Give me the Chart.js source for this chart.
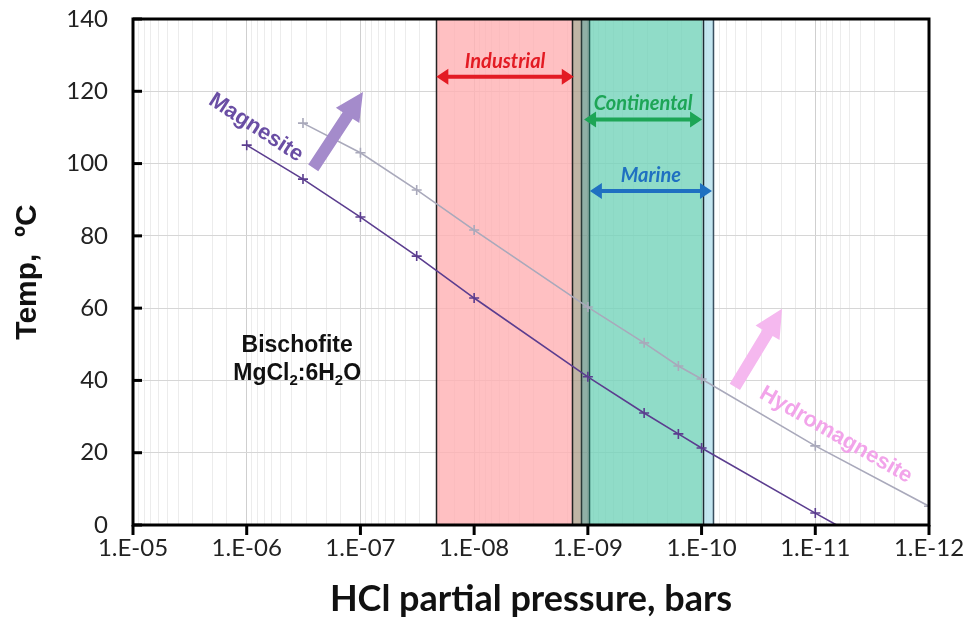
<!DOCTYPE html>
<html>
<head>
<meta charset="utf-8">
<script src="https://cdn.jsdelivr.net/npm/chart.js@4.4.1/dist/chart.umd.min.js"></script>
<style>
  body { margin: 0; background: #fff; }
  #wrap { width: 968px; height: 633px; }
</style>
</head>
<body>
<div id="wrap"><canvas id="chart"></canvas></div>
<script>
// HCl partial pressure (bars) vs temperature (C)
const magnesiteP = [1e-6, 3.2e-7, 1e-7, 3.2e-8, 1e-8, 1e-9, 3.2e-10, 1.6e-10, 1e-10, 1e-11, 6.5e-12];
const magnesiteT = [105.1, 95.7, 85.2, 74.4, 62.8, 41.0, 31.0, 25.2, 21.3, 3.3, 0];
const hydroP = [3.2e-7, 1e-7, 3.2e-8, 1e-8, 1e-9, 3.2e-10, 1.6e-10, 1e-10, 1e-11, 1e-12];
const hydroT = [111.2, 103.0, 92.7, 81.6, 60.3, 50.4, 44.0, 40.4, 21.9, 5.2];

// shaded pressure zones (edges, left to right)
const zoneEdges = [2.16e-8, 1.38e-9, 1.15e-9, 9.7e-10, 9.8e-11, 7.9e-11];
const zoneFills = ["rgba(255,176,179,0.8)", "rgba(176,162,142,0.8)", "rgba(116,156,144,0.8)",
                   "rgba(116,211,186,0.8)", "rgba(180,224,236,0.8)"];
const zoneLines = ["#222", "#222", "#2a3a38", "#1f5a50", "#1c2c34", "#3a5060"];

// range arrows: label, from, to, temperature level
const rangeNames = ["Industrial", "Continental", "Marine"];
const rangeFrom = [2.15e-8, 1.08e-9, 9.6e-10];
const rangeTo = [1.33e-9, 9.9e-11, 8.1e-11];
const rangeT = [124.0, 112.2, 92.4];
const rangeColors = ["#e31b23", "#1da556", "#1f70c1"];

const xMin = 1e-12, xMax = 1e-5;

function isDecade(v) {
  const e = Math.log10(v);
  return Math.abs(e - Math.round(e)) < 1e-6;
}

function pts(xs, ys) {
  return xs.map((x, i) => ({ x: x, y: ys[i] }));
}

function blockArrow(ctx, x0, y0, x1, y1, shaft, head, headLen, color) {
  const ang = Math.atan2(y1 - y0, x1 - x0);
  const len = Math.hypot(x1 - x0, y1 - y0);
  ctx.save();
  ctx.translate(x0, y0);
  ctx.rotate(ang);
  ctx.beginPath();
  ctx.moveTo(0, -shaft / 2);
  ctx.lineTo(len - headLen, -shaft / 2);
  ctx.lineTo(len - headLen, -head / 2);
  ctx.lineTo(len, 0);
  ctx.lineTo(len - headLen, head / 2);
  ctx.lineTo(len - headLen, shaft / 2);
  ctx.lineTo(0, shaft / 2);
  ctx.closePath();
  ctx.fillStyle = color;
  ctx.fill();
  ctx.restore();
}

function doubleArrow(ctx, x0, x1, y, color) {
  const hl = 12, hw = 8;
  ctx.save();
  ctx.strokeStyle = color;
  ctx.fillStyle = color;
  ctx.lineWidth = 4;
  ctx.beginPath();
  ctx.moveTo(x0 + hl - 2, y);
  ctx.lineTo(x1 - hl + 2, y);
  ctx.stroke();
  ctx.beginPath();
  ctx.moveTo(x0, y); ctx.lineTo(x0 + hl, y - hw); ctx.lineTo(x0 + hl, y + hw); ctx.closePath();
  ctx.moveTo(x1, y); ctx.lineTo(x1 - hl, y - hw); ctx.lineTo(x1 - hl, y + hw); ctx.closePath();
  ctx.fill();
  ctx.restore();
}

function rotatedText(ctx, text, x, y, deg, font, color) {
  ctx.save();
  ctx.translate(x, y);
  ctx.rotate(deg * Math.PI / 180);
  ctx.font = font;
  ctx.fillStyle = color;
  ctx.textAlign = "center";
  ctx.textBaseline = "middle";
  ctx.fillText(text, 0, 0);
  ctx.restore();
}

const overlay = {
  id: "overlay",
  beforeDatasetsDraw(chart) {
    const { ctx, chartArea: a, scales: { x } } = chart;
    ctx.save();
    for (let i = 0; i < zoneFills.length; i++) {
      const x0 = x.getPixelForValue(zoneEdges[i]);
      const x1 = x.getPixelForValue(zoneEdges[i + 1]);
      ctx.fillStyle = zoneFills[i];
      ctx.fillRect(x0, a.top, x1 - x0, a.bottom - a.top);
    }
    ctx.lineWidth = 1.5;
    zoneEdges.forEach((v, i) => {
      const px = Math.round(x.getPixelForValue(v)) + 0.5;
      ctx.strokeStyle = zoneLines[i];
      ctx.beginPath();
      ctx.moveTo(px, a.top);
      ctx.lineTo(px, a.bottom);
      ctx.stroke();
    });
    ctx.restore();
  },
  afterDatasetsDraw(chart) {
    const { ctx, chartArea: a, scales: { x, y } } = chart;
    ctx.save();

    // range arrows and labels
    rangeNames.forEach((name, i) => {
      const x0 = x.getPixelForValue(rangeFrom[i]);
      const x1 = x.getPixelForValue(rangeTo[i]);
      const py = y.getPixelForValue(rangeT[i]);
      doubleArrow(ctx, x0, x1, py, rangeColors[i]);
      ctx.font = "italic bold 20px Lato";
      ctx.fillStyle = rangeColors[i];
      ctx.textAlign = "center";
      ctx.textBaseline = "alphabetic";
      ctx.fillText(name, (x0 + x1) / 2, py - 9);
    });

    // mineral labels and stability arrows
    blockArrow(ctx, x.getPixelForValue(2.6e-7), y.getPixelForValue(98.8),
      x.getPixelForValue(9.5e-8), y.getPixelForValue(119.8), 12, 28, 28, "#a48bcb");
    blockArrow(ctx, x.getPixelForValue(5.1e-11), y.getPixelForValue(38.2),
      x.getPixelForValue(1.96e-11), y.getPixelForValue(59.8), 12, 28, 28, "#f5b8ef");
    rotatedText(ctx, "Magnesite", x.getPixelForValue(8.3e-7), y.getPixelForValue(109.9), 33,
      "bold 22px 'Liberation Sans', Arial", "#6a4ea4");
    rotatedText(ctx, "Hydromagnesite", x.getPixelForValue(6.6e-12), y.getPixelForValue(24.9), 30,
      "bold 22px 'Liberation Sans', Arial", "#f2a4ea");

    // Bischofite label with subscripts
    const bx = x.getPixelForValue(3.6e-7);
    const by1 = y.getPixelForValue(47.8);
    const by2 = y.getPixelForValue(40.0);
    ctx.fillStyle = "#111";
    ctx.textBaseline = "alphabetic";
    ctx.textAlign = "center";
    ctx.font = "bold 23px 'Liberation Sans', Arial";
    ctx.fillText("Bischofite", bx, by1);
    const parts = [["MgCl", 0], ["2", 1], [":6H", 0], ["2", 1], ["O", 0]];
    const big = "bold 23px 'Liberation Sans', Arial", small = "bold 15px 'Liberation Sans', Arial";
    let total = 0;
    parts.forEach(p => { ctx.font = p[1] ? small : big; total += ctx.measureText(p[0]).width; });
    let cx = bx - total / 2;
    ctx.textAlign = "left";
    parts.forEach(p => {
      ctx.font = p[1] ? small : big;
      ctx.fillText(p[0], cx, by2 + (p[1] ? 5 : 0));
      cx += ctx.measureText(p[0]).width;
    });

    // tick marks: y inward, x outward
    ctx.strokeStyle = "#000";
    ctx.lineWidth = 3;
    y.ticks.forEach(t => {
      const py = y.getPixelForValue(t.value);
      ctx.beginPath(); ctx.moveTo(a.left, py); ctx.lineTo(a.left + 9, py); ctx.stroke();
    });
    x.ticks.forEach(t => {
      if (!isDecade(t.value)) return;
      const px = x.getPixelForValue(t.value);
      ctx.beginPath(); ctx.moveTo(px, a.bottom); ctx.lineTo(px, a.bottom + 10); ctx.stroke();
    });

    // plot frame
    ctx.lineWidth = 3;
    ctx.strokeRect(a.left, a.top, a.right - a.left, a.bottom - a.top);
    ctx.restore();
  }
};

new Chart(document.getElementById("chart"), {
  type: "line",
  data: {
    datasets: [
      {
        label: "Magnesite",
        data: pts(magnesiteP, magnesiteT),
        borderColor: "#5b3d8f",
        backgroundColor: "#5b3d8f",
        borderWidth: 1.6,
        pointStyle: "cross",
        pointRadius: magnesiteP.map((v, i) => i === magnesiteP.length - 1 ? 0 : 5),
        pointBorderWidth: 1.6,
        tension: 0
      },
      {
        label: "Hydromagnesite",
        data: pts(hydroP, hydroT),
        borderColor: "#a9a9bb",
        backgroundColor: "#a9a9bb",
        borderWidth: 1.6,
        pointStyle: "cross",
        pointRadius: 5,
        pointBorderWidth: 1.6,
        tension: 0
      }
    ]
  },
  options: {
    responsive: true,
    maintainAspectRatio: false,
    animation: false,
    layout: { padding: { top: 19, right: 39, left: 0, bottom: 0 } },
    plugins: { legend: { display: false }, tooltip: { enabled: false } },
    scales: {
      x: {
        type: "logarithmic",
        reverse: true,
        min: xMin,
        max: xMax,
        afterFit: s => { s.height = 108; s.paddingLeft = 0; s.paddingRight = 0; },
        border: { display: false },
        grid: {
          drawTicks: false,
          color: c => isDecade(c.tick.value) ? "#cfcfcf" : "#ececec",
          lineWidth: 1
        },
        ticks: {
          autoSkip: false,
          maxRotation: 0,
          padding: 9,
          color: "#222",
          font: { family: "Lato", size: 24 },
          callback: v => isDecade(v) ? "1.E-" + String(-Math.round(Math.log10(v))).padStart(2, "0") : ""
        },
        title: {
          display: true,
          text: "HCl partial pressure, bars",
          color: "#111",
          font: { family: "Lato", size: 36, weight: "bold" },
          padding: { top: 0, bottom: 12 }
        }
      },
      y: {
        min: 0,
        max: 140,
        afterFit: s => { s.width = 133; s.paddingTop = 0; s.paddingBottom = 0; },
        border: { display: false },
        grid: { drawTicks: false, color: "#d6d6d6", lineWidth: 1 },
        ticks: {
          stepSize: 20,
          padding: 25,
          color: "#222",
          font: { family: "Lato", size: 24 }
        },
        title: {
          display: true,
          text: "Temp,  ºC",
          color: "#111",
          font: { family: "'Liberation Sans', Arial", size: 30, weight: "bold" },
          padding: { top: 10, bottom: 0 }
        }
      }
    }
  },
  plugins: [overlay]
});
</script>
</body>
</html>
